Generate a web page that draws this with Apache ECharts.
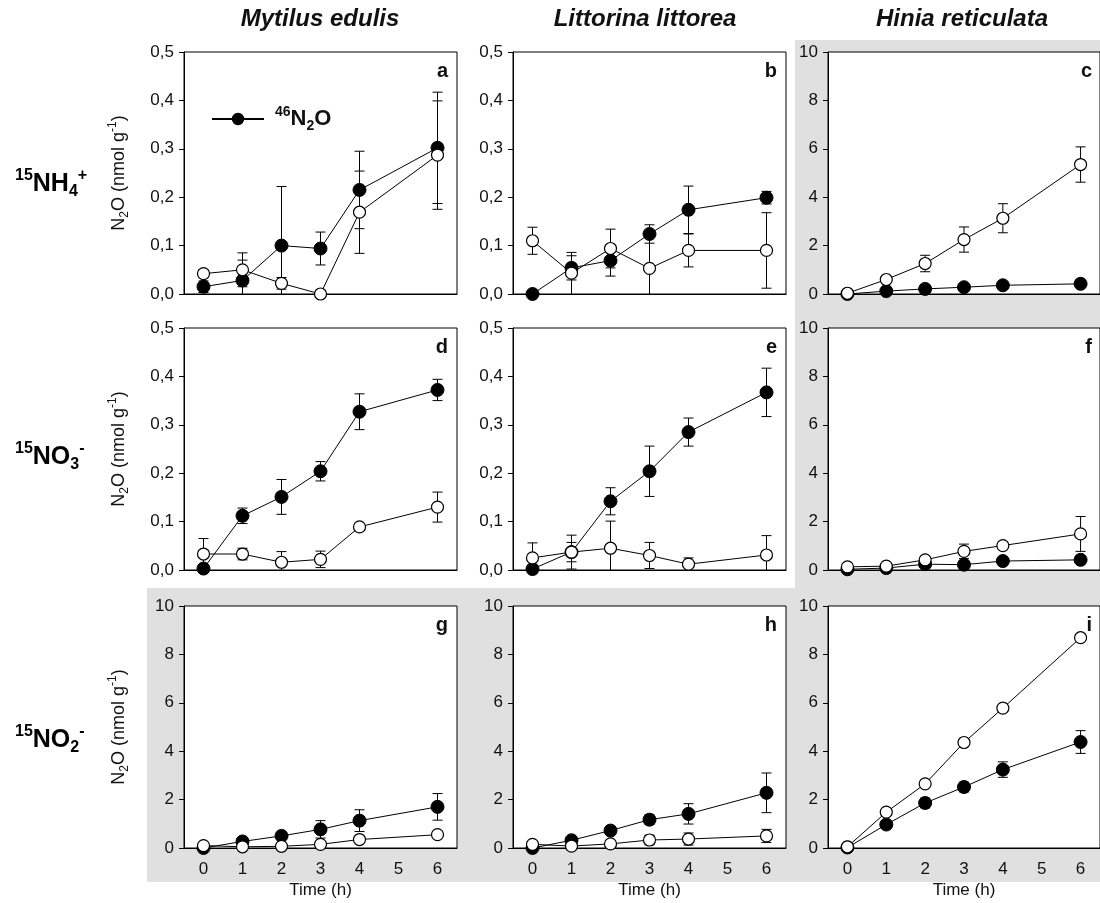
<!DOCTYPE html>
<html><head><meta charset="utf-8">
<script src="https://cdn.jsdelivr.net/npm/echarts@6/dist/echarts.min.js"></script>
<style>html,body{margin:0;padding:0;background:#fff}#c{width:1100px;height:903px}</style>
</head><body><div id="c"></div>
<script>
// ---------- data ----------
const hours = [0, 1, 2, 3, 4, 6];
const xLabels = ['0', '1', '2', '3', '4', '5', '6'];
const species = ['Mytilus edulis', 'Littorina littorea', 'Hinia reticulata'];
const panelLetters = ['a', 'b', 'c', 'd', 'e', 'f', 'g', 'h', 'i'];
const legendName = '46N2O';

// a: Mytilus, 15NH4+
const aFilled = [0.015, 0.028, 0.100, 0.094, 0.215, 0.302];
const aFilledErr = [0.012, 0.042, 0.122, 0.034, 0.080, 0.115];
const aOpen = [0.042, 0.050, 0.022, 0.000, 0.169, 0.287];
const aOpenErr = [0.008, 0.035, 0.012, 0.000, 0.085, 0.112];
// b: Littorina, 15NH4+
const bFilled = [0.000, 0.054, 0.069, 0.124, 0.174, 0.199];
const bFilledErr = [0.000, 0.025, 0.032, 0.019, 0.049, 0.013];
const bOpen = [0.110, 0.043, 0.094, 0.053, 0.090, 0.090];
const bOpenErr = [0.028, 0.043, 0.040, 0.070, 0.034, 0.078];
// c: Hinia, 15NH4+
const cFilled = [0.00, 0.12, 0.21, 0.28, 0.36, 0.42];
const cFilledErr = [0, 0, 0, 0, 0, 0];
const cOpen = [0.03, 0.60, 1.26, 2.25, 3.13, 5.35];
const cOpenErr = [0, 0, 0.34, 0.52, 0.60, 0.73];
// d: Mytilus, 15NO3-
const dFilled = [0.003, 0.112, 0.151, 0.204, 0.327, 0.372];
const dFilledErr = [0, 0.016, 0.036, 0.020, 0.037, 0.022];
const dOpen = [0.033, 0.033, 0.016, 0.022, 0.089, 0.130];
const dOpenErr = [0.032, 0.012, 0.022, 0.017, 0.004, 0.031];
// e: Littorina, 15NO3-
const eFilled = [0.002, 0.037, 0.142, 0.204, 0.285, 0.367];
const eFilledErr = [0, 0.035, 0.028, 0.052, 0.029, 0.050];
const eOpen = [0.025, 0.037, 0.045, 0.030, 0.012, 0.031];
const eOpenErr = [0.031, 0.020, 0.056, 0.027, 0.013, 0.040];
// f: Hinia, 15NO3-
const fFilled = [0.03, 0.08, 0.24, 0.22, 0.37, 0.42];
const fFilledErr = [0, 0, 0.05, 0.08, 0.05, 0.05];
const fOpen = [0.13, 0.16, 0.42, 0.77, 1.01, 1.49];
const fOpenErr = [0, 0, 0.12, 0.30, 0.10, 0.72];
// g: Mytilus, 15NO2-
const gFilled = [0.00, 0.27, 0.50, 0.77, 1.13, 1.70];
const gFilledErr = [0, 0.05, 0.10, 0.36, 0.45, 0.55];
const gOpen = [0.10, 0.05, 0.07, 0.15, 0.35, 0.55];
const gOpenErr = [0, 0, 0, 0, 0.10, 0.05];
// h: Littorina, 15NO2-
const hFilled = [0.00, 0.32, 0.72, 1.17, 1.41, 2.28];
const hFilledErr = [0, 0.05, 0.10, 0.20, 0.42, 0.82];
const hOpen = [0.15, 0.08, 0.17, 0.33, 0.37, 0.50];
const hOpenErr = [0, 0, 0, 0.20, 0.25, 0.27];
// i: Hinia, 15NO2-
const iFilled = [0.02, 0.97, 1.86, 2.52, 3.24, 4.38];
const iFilledErr = [0, 0.10, 0.20, 0.20, 0.32, 0.47];
const iOpen = [0.05, 1.48, 2.65, 4.36, 5.78, 8.69];
const iOpenErr = [0, 0, 0, 0, 0, 0.05];

const smallMax = 0.5, smallStep = 0.1;
const largeMax = 10, largeStep = 2;

// ---------- layout ----------
const colLeft = [184, 513, 828], rowTop = [52, 328, 606], W = 273, H = 242;
const rowLabelY = [184, 457, 740];
const FONT = '"Liberation Sans", Arial, Helvetica, sans-serif';
const INK = '#111';

const panels = [
  {f: aFilled, fe: aFilledErr, o: aOpen, oe: aOpenErr, max: smallMax, step: smallStep},
  {f: bFilled, fe: bFilledErr, o: bOpen, oe: bOpenErr, max: smallMax, step: smallStep},
  {f: cFilled, fe: cFilledErr, o: cOpen, oe: cOpenErr, max: largeMax, step: largeStep},
  {f: dFilled, fe: dFilledErr, o: dOpen, oe: dOpenErr, max: smallMax, step: smallStep},
  {f: eFilled, fe: eFilledErr, o: eOpen, oe: eOpenErr, max: smallMax, step: smallStep},
  {f: fFilled, fe: fFilledErr, o: fOpen, oe: fOpenErr, max: largeMax, step: largeStep},
  {f: gFilled, fe: gFilledErr, o: gOpen, oe: gOpenErr, max: largeMax, step: largeStep},
  {f: hFilled, fe: hFilledErr, o: hOpen, oe: hOpenErr, max: largeMax, step: largeStep},
  {f: iFilled, fe: iFilledErr, o: iOpen, oe: iOpenErr, max: largeMax, step: largeStep}
];

function errRender(params, api) {
  const x = api.value(0), y = api.value(1), e = api.value(2);
  if (!(e > 0)) return null;
  const lo = Math.max(y - e, 0);
  const pt = api.coord([x, y + e]), pb = api.coord([x, lo]);
  const half = 5;
  const st = {stroke: '#000', lineWidth: 1};
  const children = [
    {type: 'line', shape: {x1: pt[0], y1: pt[1], x2: pb[0], y2: pb[1]}, style: st},
    {type: 'line', shape: {x1: pt[0] - half, y1: pt[1], x2: pt[0] + half, y2: pt[1]}, style: st}
  ];
  if (y - e > 0) children.push({type: 'line', shape: {x1: pb[0] - half, y1: pb[1], x2: pb[0] + half, y2: pb[1]}, style: st});
  return {type: 'group', children};
}

const yNameRich = {
  n: {fontSize: 18, color: INK, fontFamily: FONT, lineHeight: 24},
  s: {fontSize: 12, color: INK, fontFamily: FONT, lineHeight: 12, verticalAlign: 'bottom'},
  p: {fontSize: 12, color: INK, fontFamily: FONT, lineHeight: 12, verticalAlign: 'top'}
};

const grids = [], xAxes = [], yAxes = [], series = [];
panels.forEach((p, i) => {
  const r = Math.floor(i / 3), c = i % 3;
  grids.push({left: colLeft[c], top: rowTop[r], width: W, height: H, show: true,
    backgroundColor: '#fff', borderColor: '#000', borderWidth: 1, z: 2});
  xAxes.push({type: 'category', gridIndex: i, data: xLabels, boundaryGap: true,
    axisLine: {lineStyle: {color: '#000', width: 1}},
    axisTick: {alignWithLabel: true, interval: 0, length: 5, lineStyle: {color: '#000'}},
    axisLabel: {show: r === 2, interval: 0, margin: 13, fontSize: 17, color: INK, fontFamily: FONT},
    splitLine: {show: false},
    name: r === 2 ? 'Time (h)' : '', nameLocation: 'middle', nameGap: 34,
    nameTextStyle: {fontSize: 17, color: INK, fontFamily: FONT}, z: 3});
  yAxes.push({type: 'value', gridIndex: i, min: 0, max: p.max, interval: p.step,
    axisLine: {show: true, lineStyle: {color: '#000', width: 1}},
    axisTick: {show: true, length: 5, lineStyle: {color: '#000'}},
    axisLabel: {margin: 10, fontSize: 17, color: INK, fontFamily: FONT,
      formatter: v => p.max < 1 ? v.toFixed(1).replace('.', ',') : String(Math.round(v))},
    splitLine: {show: false},
    name: c === 0 ? '{n|N}{s|2}{n|O (nmol g}{p|-1}{n|)}' : '',
    nameLocation: 'middle', nameGap: 53,
    nameTextStyle: {rich: yNameRich}, z: 3});
  const mk = (vals, errs) => hours.map((h, k) => [h, vals[k], errs[k]]);
  series.push({type: 'custom', xAxisIndex: i, yAxisIndex: i, renderItem: errRender,
    data: mk(p.f, p.fe), encode: {x: 0, y: 1}, z: 3, silent: true, name: 'ef' + i});
  series.push({type: 'custom', xAxisIndex: i, yAxisIndex: i, renderItem: errRender,
    data: mk(p.o, p.oe), encode: {x: 0, y: 1}, z: 3, silent: true, name: 'eo' + i});
  series.push({type: 'line', name: i === 0 ? legendName : 'filled' + i, xAxisIndex: i, yAxisIndex: i,
    data: hours.map((h, k) => [h, p.f[k]]), symbol: 'circle', symbolSize: 13, showSymbol: true,
    lineStyle: {color: '#000', width: 1}, itemStyle: {color: '#000', borderColor: '#000', borderWidth: 1},
    emphasis: {disabled: true}, z: 4});
  series.push({type: 'line', name: 'open' + i, xAxisIndex: i, yAxisIndex: i,
    data: hours.map((h, k) => [h, p.o[k]]), symbol: 'circle', symbolSize: 12, showSymbol: true,
    lineStyle: {color: '#000', width: 1}, itemStyle: {color: '#fff', borderColor: '#000', borderWidth: 1.2},
    emphasis: {disabled: true}, z: 5});
});

const subRich = {
  b: {fontSize: 25, fontWeight: 'bold', color: INK, fontFamily: FONT, lineHeight: 32},
  sup: {fontSize: 16, fontWeight: 'bold', color: INK, fontFamily: FONT, lineHeight: 16, verticalAlign: 'top'},
  sub: {fontSize: 16, fontWeight: 'bold', color: INK, fontFamily: FONT, lineHeight: 16, verticalAlign: 'bottom'}
};
const rowLabels = ['{sup|15}{b|NH}{sub|4}{sup|+}', '{sup|15}{b|NO}{sub|3}{sup|-}', '{sup|15}{b|NO}{sub|2}{sup|-}'];

const graphics = [
  {type: 'rect', z: -10, shape: {x: 795, y: 40, width: 305, height: 548}, style: {fill: '#e0e0e0'}},
  {type: 'rect', z: -10, shape: {x: 147, y: 588, width: 953, height: 294}, style: {fill: '#e0e0e0'}}
];
const titleX = [320, 645, 962];
species.forEach((s, c) => graphics.push({type: 'text', z: 10, style: {text: s, x: titleX[c], y: 19,
  align: 'center', verticalAlign: 'middle', font: 'italic bold 24px ' + FONT, fill: INK}}));
rowLabels.forEach((t, r) => graphics.push({type: 'text', z: 10, style: {text: t, rich: subRich, x: 15,
  y: rowLabelY[r], align: 'left', verticalAlign: 'middle'}}));
panelLetters.forEach((l, i) => {
  const r = Math.floor(i / 3), c = i % 3;
  graphics.push({type: 'text', z: 10, style: {text: l, x: colLeft[c] + W - 9, y: rowTop[r] + 19,
    align: 'right', verticalAlign: 'middle', font: 'bold 20px ' + FONT, fill: INK}});
});

const chart = echarts.init(document.getElementById('c'));
chart.setOption({
  animation: false,
  backgroundColor: '#fff',
  grid: grids, xAxis: xAxes, yAxis: yAxes, series: series,
  legend: {data: [legendName], left: 206, top: 100, itemWidth: 52, itemHeight: 13, selectedMode: false,
    formatter: () => '{sp|}{sup|46}{b|N}{sub|2}{b|O}',
    textStyle: {rich: {
      sp: {width: 6},
      b: {fontSize: 22, fontWeight: 'bold', color: INK, fontFamily: FONT, lineHeight: 28},
      sup: {fontSize: 14, fontWeight: 'bold', color: INK, fontFamily: FONT, lineHeight: 14, verticalAlign: 'top'},
      sub: {fontSize: 14, fontWeight: 'bold', color: INK, fontFamily: FONT, lineHeight: 14, verticalAlign: 'bottom'}
    }}},
  graphic: graphics
});
</script></body></html>
